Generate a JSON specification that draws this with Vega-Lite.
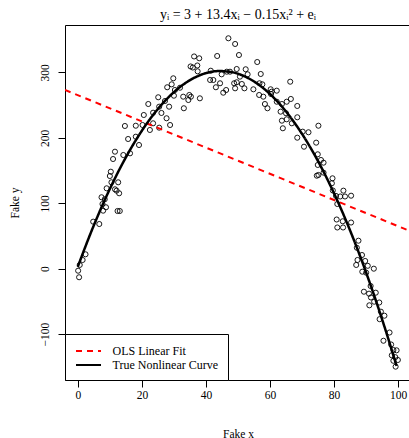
{
"$schema":"https://vega.github.io/schema/vega-lite/v6.json",
"width":346,"height":355,
"autosize":{"type":"none"},
"padding":{"left":65,"top":25,"right":0,"bottom":58},
"background":"white",
"title":{"text":"yᵢ = 3 + 13.4xᵢ − 0.15xᵢ² + eᵢ","font":"Liberation Serif","fontSize":14,"fontWeight":"normal","anchor":"middle","baseline":"alphabetic","offset":6,"dy":14,"color":"black"},
"config":{
 "view":{"stroke":"black","strokeWidth":1},
 "axis":{"grid":false,"domain":false,"tickColor":"black","tickSize":7,"tickWidth":1,"labelFont":"Liberation Serif","labelFontSize":11.5,"labelColor":"black","titleFont":"Liberation Serif","titleFontSize":11.5,"titleFontWeight":"normal","titleColor":"black"}
},
"datasets":{
 "pts":[
{"x":11.6,"y":178.9},{"x":14.2,"y":173.8},{"x":16.3,"y":176.4},{"x":11.0,"y":167.7},{"x":10.3,"y":148.3},{"x":10.0,"y":141.7},{"x":12.6,"y":132.1},{"x":10.5,"y":132.1},{"x":9.0,"y":122.9},{"x":11.6,"y":121.4},{"x":12.1,"y":119.3},{"x":12.9,"y":115.3},{"x":7.4,"y":109.2},{"x":8.4,"y":106.1},{"x":7.7,"y":98.9},{"x":8.8,"y":93.9},{"x":7.9,"y":88.7},{"x":12.4,"y":88.2},{"x":13.1,"y":88.2},{"x":4.8,"y":71.9},{"x":6.7,"y":68.3},{"x":2.4,"y":22.0},{"x":1.5,"y":13.3},{"x":0.6,"y":5.7},{"x":0.1,"y":-3.1},{"x":0.4,"y":-13.1},
{"x":15.7,"y":198.3},{"x":18.1,"y":201.8},{"x":19.1,"y":189.1},{"x":14.7,"y":218.2},{"x":18.1,"y":218.6},{"x":20.2,"y":219.7},{"x":22.5,"y":212.1},{"x":20.6,"y":235.0},{"x":23.5,"y":222.3},{"x":25.4,"y":215.6},{"x":28.8,"y":219.7},{"x":22.0,"y":251.8},{"x":23.5,"y":238.5},{"x":26.1,"y":238.1},{"x":27.7,"y":230.0},{"x":25.1,"y":262.1},{"x":27.2,"y":256.4},{"x":25.4,"y":247.7},{"x":28.5,"y":247.7},{"x":27.9,"y":277.4},{"x":29.3,"y":281.9},{"x":29.8,"y":291.1},{"x":30.3,"y":273.2},{"x":31.9,"y":276.7},{"x":30.0,"y":264.5},{"x":32.9,"y":263.0},{"x":34.8,"y":265.6},{"x":35.3,"y":263.0},{"x":34.5,"y":257.9},{"x":38.1,"y":260.5},{"x":33.1,"y":245.3},{"x":36.3,"y":324.5},{"x":37.9,"y":321.7},{"x":35.2,"y":309.2},{"x":35.9,"y":307.6},{"x":37.3,"y":310.7},{"x":37.4,"y":301.8},{"x":41.5,"y":302.7},{"x":41.3,"y":288.5},{"x":42.3,"y":288.5},{"x":43.5,"y":325.2},{"x":44.4,"y":283.5},{"x":44.9,"y":297.2},{"x":43.1,"y":277.4},{"x":46.3,"y":273.2},{"x":45.4,"y":269.1},
{"x":47.0,"y":352.3},{"x":49.1,"y":343.6},{"x":50.3,"y":326.7},{"x":56.0,"y":316.0},{"x":57.1,"y":297.7},{"x":46.5,"y":301.2},{"x":47.5,"y":301.2},{"x":49.6,"y":305.3},{"x":52.4,"y":304.9},{"x":53.0,"y":297.2},{"x":50.6,"y":293.6},{"x":48.8,"y":283.5},{"x":49.6,"y":285.0},{"x":51.2,"y":282.4},{"x":49.1,"y":275.8},{"x":52.0,"y":275.8},{"x":54.8,"y":274.3},{"x":56.7,"y":283.5},{"x":57.6,"y":281.9},{"x":56.6,"y":265.6},{"x":57.9,"y":263.0},{"x":60.2,"y":274.3},{"x":60.5,"y":270.6},{"x":62.1,"y":272.2},{"x":60.3,"y":267.1},{"x":58.4,"y":251.8},{"x":59.2,"y":245.3},{"x":66.3,"y":285.9},{"x":62.1,"y":255.3},{"x":63.7,"y":251.8},{"x":65.2,"y":255.3},{"x":66.5,"y":259.5},{"x":63.3,"y":240.1},{"x":65.0,"y":237.6},{"x":68.5,"y":248.8},{"x":63.7,"y":226.3},{"x":65.2,"y":228.4},{"x":68.5,"y":231.5},{"x":66.8,"y":222.3},{"x":64.0,"y":214.7},
{"x":70.2,"y":209.5},{"x":72.0,"y":208.6},{"x":75.1,"y":218.6},{"x":68.5,"y":200.3},{"x":74.4,"y":192.7},{"x":70.6,"y":186.5},{"x":74.9,"y":174.9},{"x":75.9,"y":166.2},{"x":76.7,"y":162.1},{"x":74.9,"y":158.6},{"x":76.7,"y":146.8},{"x":74.6,"y":142.2},{"x":75.1,"y":143.3},{"x":79.5,"y":138.2},{"x":79.3,"y":130.6},{"x":79.6,"y":119.6},{"x":82.9,"y":119.3},{"x":80.6,"y":111.2},{"x":81.9,"y":110.4},{"x":83.4,"y":110.4},{"x":85.3,"y":111.6},{"x":81.0,"y":98.9},{"x":80.8,"y":75.2},{"x":82.7,"y":72.5},{"x":85.3,"y":70.6},{"x":81.0,"y":63.0},{"x":82.8,"y":63.0},{"x":87.6,"y":42.8},{"x":87.1,"y":32.0},{"x":88.7,"y":20.9},{"x":87.3,"y":13.3},{"x":89.7,"y":11.8},{"x":86.9,"y":5.7},{"x":90.5,"y":4.4},{"x":88.8,"y":-4.6},{"x":90.0,"y":-6.1},{"x":92.4,"y":0.0},{"x":91.4,"y":-26.5},{"x":89.3,"y":-35.2},{"x":90.9,"y":-38.2},{"x":93.0,"y":-36.7},{"x":91.5,"y":-44.0},{"x":91.0,"y":-56.0},{"x":94.1,"y":-51.7},{"x":92.5,"y":-50.5},{"x":94.6,"y":-65.7},{"x":95.7,"y":-71.9},{"x":94.2,"y":-77.2},{"x":97.3,"y":-97.6},{"x":95.4,"y":-110.2},{"x":97.8,"y":-115.9},{"x":98.5,"y":-124.3},{"x":99.5,"y":-124.8},{"x":98.0,"y":-132.4},{"x":99.1,"y":-135.3},{"x":99.9,"y":-139.6},{"x":98.5,"y":-140.8},{"x":99.2,"y":-149.8}
 ],
 "ols":[{"x":-4,"y":273.3,"series":"OLS Linear Fit"},{"x":104,"y":56.9,"series":"OLS Linear Fit"}],
 "curve":[
{"x":0,"y":3,"series":"True Nonlinear Curve"},{"x":4,"y":54.2,"series":"True Nonlinear Curve"},{"x":8,"y":100.6,"series":"True Nonlinear Curve"},{"x":12,"y":142.2,"series":"True Nonlinear Curve"},{"x":16,"y":179,"series":"True Nonlinear Curve"},{"x":20,"y":211,"series":"True Nonlinear Curve"},{"x":24,"y":238.2,"series":"True Nonlinear Curve"},{"x":28,"y":260.6,"series":"True Nonlinear Curve"},{"x":32,"y":278.2,"series":"True Nonlinear Curve"},{"x":36,"y":291,"series":"True Nonlinear Curve"},{"x":40,"y":299,"series":"True Nonlinear Curve"},{"x":44,"y":302.2,"series":"True Nonlinear Curve"},{"x":48,"y":300.6,"series":"True Nonlinear Curve"},{"x":52,"y":294.2,"series":"True Nonlinear Curve"},{"x":56,"y":283,"series":"True Nonlinear Curve"},{"x":60,"y":267,"series":"True Nonlinear Curve"},{"x":64,"y":246.2,"series":"True Nonlinear Curve"},{"x":68,"y":220.6,"series":"True Nonlinear Curve"},{"x":72,"y":190.2,"series":"True Nonlinear Curve"},{"x":76,"y":155,"series":"True Nonlinear Curve"},{"x":80,"y":115,"series":"True Nonlinear Curve"},{"x":84,"y":70.2,"series":"True Nonlinear Curve"},{"x":88,"y":20.6,"series":"True Nonlinear Curve"},{"x":92,"y":-33.8,"series":"True Nonlinear Curve"},{"x":96,"y":-93,"series":"True Nonlinear Curve"},{"x":99.5,"y":-148.7,"series":"True Nonlinear Curve"}
 ]
},
"encoding":{
 "x":{"field":"x","type":"quantitative","scale":{"domain":[-4,104],"nice":false,"zero":false},"axis":{"values":[0,20,40,60,80,100],"title":"Fake x","labelBaseline":"alphabetic","labelPadding":11,"titleX":173,"titleY":57,"titleBaseline":"alphabetic","titleAnchor":"middle"}},
 "y":{"field":"y","type":"quantitative","scale":{"domain":[-170.2,372.6],"nice":false,"zero":false},"axis":{"values":[-100,0,100,200,300],"title":"Fake y","labelAngle":-90,"labelAlign":"center","labelBaseline":"bottom","labelPadding":8,"titleX":-47,"titleY":177.5,"titleAngle":-90,"titleAlign":"center","titleBaseline":"alphabetic"}}
},
"layer":[
 {"data":{"name":"pts"},"mark":{"type":"point","shape":"circle","filled":false,"stroke":"black","strokeWidth":0.9,"size":26,"opacity":1}},
 {"data":{"name":"ols"},"mark":{"type":"line","strokeWidth":2,"clip":true},
  "encoding":{"color":{"field":"series","type":"nominal"},"strokeDash":{"field":"series","type":"nominal"}}},
 {"data":{"name":"curve"},"mark":{"type":"line","strokeWidth":2.5,"interpolate":"monotone","clip":true},
  "encoding":{"color":{"field":"series","type":"nominal","scale":{"domain":["OLS Linear Fit","True Nonlinear Curve"],"range":["#ff0000","#000000"]},
   "legend":{"title":null,"orient":"bottom-left","offset":0,"padding":9,"strokeColor":"black","fillColor":"white","cornerRadius":0,"symbolType":"M-1.786,0L1.786,0","symbolSize":196,"symbolStrokeWidth":2,"symbolOffset":6.5,"labelOffset":16,"labelFont":"Liberation Serif","labelFontSize":12,"labelColor":"black","rowPadding":0}},
   "strokeDash":{"field":"series","type":"nominal","scale":{"domain":["OLS Linear Fit","True Nonlinear Curve"],"range":[[6,5],[1,0]]},
   "legend":{"title":null,"orient":"bottom-left","offset":0,"padding":9,"strokeColor":"black","fillColor":"white","cornerRadius":0,"symbolType":"M-1.786,0L1.786,0","symbolSize":196,"symbolStrokeWidth":2,"symbolOffset":6.5,"labelOffset":16,"labelFont":"Liberation Serif","labelFontSize":12,"labelColor":"black","rowPadding":0}}}}
]
}
